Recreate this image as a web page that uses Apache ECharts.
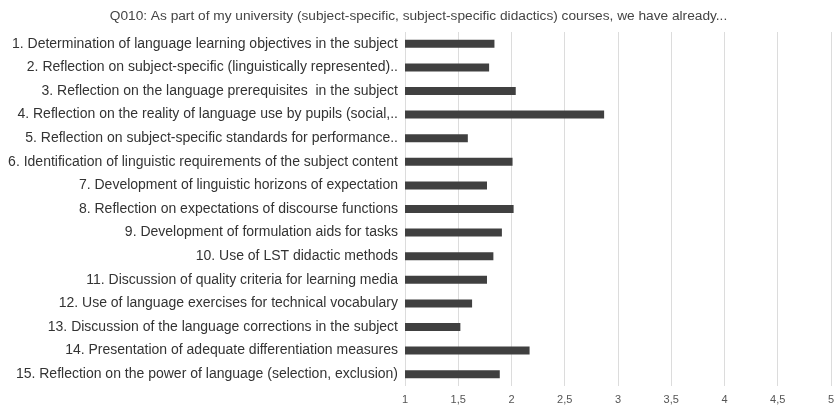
<!DOCTYPE html>
<html>
<head>
    <meta charset="utf-8">
    <title>Q010</title>
    <script src="https://cdn.jsdelivr.net/npm/echarts@6/dist/echarts.min.js"></script>
    <style>
        *{margin: 0;padding: 0;}
    </style>
</head>
<body>
    <div id="main" style="width: 837px;height:408px;"></div>
    <script type="text/javascript">
        // item labels (top to bottom)
        var categories = [
            '1. Determination of language learning objectives in the subject',
            '2. Reflection on subject-specific (linguistically represented)..',
            '3. Reflection on the language prerequisites  in the subject',
            '4. Reflection on the reality of language use by pupils (social,..',
            '5. Reflection on subject-specific standards for performance..',
            '6. Identification of linguistic requirements of the subject content',
            '7. Development of linguistic horizons of expectation',
            '8. Reflection on expectations of discourse functions',
            '9. Development of formulation aids for tasks',
            '10. Use of LST didactic methods',
            '11. Discussion of quality criteria for learning media',
            '12. Use of language exercises for technical vocabulary',
            '13. Discussion of the language corrections in the subject',
            '14. Presentation of adequate differentiation measures',
            '15. Reflection on the power of language (selection, exclusion)'
        ];
        // mean values
        var means = [1.84, 1.79, 2.04, 2.87, 1.59, 2.01, 1.77, 2.02, 1.91, 1.83, 1.77, 1.63, 1.52, 2.17, 1.89];
        var tickLabels = ['1', '1,5', '2', '2,5', '3', '3,5', '4', '4,5', '5'];

        var myChart = echarts.init(document.getElementById('main'));

        var option = {
            animation: false,
            title: {
                text: 'Q010: As part of my university (subject-specific, subject-specific didactics) courses, we have already...',
                left: 'center',
                top: 4,
                textStyle: {
                    fontFamily: 'Liberation Sans',
                    fontSize: 13.7,
                    fontWeight: 'normal',
                    color: '#444'
                }
            },
            grid: {
                left: 405,
                right: 6,
                top: 32,
                bottom: 22,
                containLabel: false
            },
            xAxis: {
                type: 'value',
                min: 1,
                max: 5,
                interval: 0.5,
                axisLine: { show: false },
                axisTick: { show: false },
                splitLine: { lineStyle: { color: '#dcdcdc', width: 1 } },
                axisLabel: {
                    fontFamily: 'Liberation Sans',
                    fontSize: 11,
                    color: '#555',
                    margin: 8,
                    formatter: function (v) {
                        var i = Math.round((v - 1) / 0.5);
                        return tickLabels[i];
                    }
                }
            },
            yAxis: {
                type: 'category',
                inverse: true,
                data: categories,
                axisLine: { show: false },
                axisTick: { show: false },
                axisLabel: {
                    fontFamily: 'Liberation Sans',
                    fontSize: 14,
                    color: '#333',
                    margin: 7
                }
            },
            series: [{
                type: 'bar',
                data: means,
                barWidth: 8,
                itemStyle: { color: '#404040' }
            }]
        };

        myChart.setOption(option);
    </script>
</body>
</html>
